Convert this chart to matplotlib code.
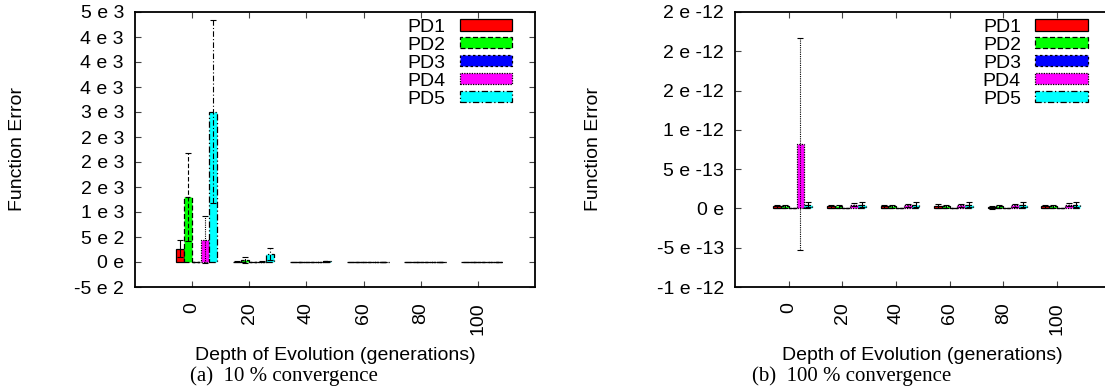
import numpy as np
import matplotlib
matplotlib.use('Agg')
from matplotlib import pyplot as plt
from matplotlib.patches import Patch

plt.rcParams['font.family'] = ['Liberation Sans', 'DejaVu Sans']

# data
depths = [0, 20, 40, 60, 80, 100]
series = ['PD1', 'PD2', 'PD3', 'PD4', 'PD5']
colors = ['#ff0000', '#00ff00', '#0000ff', '#ff00ff', '#00ffff']
styles = ['-', (0, (4, 2)), (0, (2, 2)), (0, (1, 1)), (0, (5, 2, 1, 2))]

# (a) 10 % convergence
mean10 = {
    'PD1': [270, 8, 5, 5, 5, 5],
    'PD2': [1300, 50, 6, 5, 5, 5],
    'PD3': [3, 2, 2, 2, 2, 2],
    'PD4': [450, 8, 5, 5, 5, 5],
    'PD5': [3010, 160, 15, 5, 5, 5],
}
err10 = {
    'PD1': [170, 5, 3, 3, 3, 3],
    'PD2': [880, 60, 4, 3, 3, 3],
    'PD3': [2, 1, 1, 1, 1, 1],
    'PD4': [470, 5, 3, 3, 3, 3],
    'PD5': [1830, 115, 12, 4, 4, 4],
}
yticks10 = [-500, 0, 500, 1000, 1500, 2000, 2500, 3000, 3500, 4000, 4500, 5000]
ylabels10 = ['-5 e 2', '0 e', '5 e 2', '1 e 3', '2 e 3', '2 e 3', '2 e 3',
             '3 e 3', '4 e 3', '4 e 3', '4 e 3', '5 e 3']

# (b) 100 % convergence
mean100 = {
    'PD1': [2.5e-14, 2.5e-14, 3e-14, 3e-14, 1.5e-14, 3e-14],
    'PD2': [3e-14, 2.5e-14, 2.5e-14, 3e-14, 2.5e-14, 2.5e-14],
    'PD3': [2e-16, 2e-16, 2e-16, 2e-16, 2e-16, 2e-16],
    'PD4': [8.15e-13, 5e-14, 4e-14, 4e-14, 4e-14, 4.5e-14],
    'PD5': [5e-14, 5e-14, 5e-14, 5e-14, 5e-14, 5e-14],
}
err100 = {
    'PD1': [2e-14, 2.5e-14, 2e-14, 2.5e-14, 2e-14, 2e-14],
    'PD2': [2e-14, 2e-14, 2e-14, 2e-14, 2e-14, 2e-14],
    'PD3': [1e-16, 1e-16, 1e-16, 1e-16, 1e-16, 1e-16],
    'PD4': [1.35e-12, 2e-14, 2e-14, 2e-14, 2e-14, 2e-14],
    'PD5': [3e-14, 3e-14, 3.5e-14, 3e-14, 3e-14, 3.5e-14],
}
yticks100 = [-1e-12, -5e-13, 0, 5e-13, 1e-12, 1.5e-12, 2e-12, 2.5e-12]
ylabels100 = ['-1 e -12', '-5 e -13', '0 e', '5 e -13', '1 e -12',
              '2 e -12', '2 e -12', '2 e -12']

FS = 14
BAR_W = 2.9
BAR_START = -4.3


def drawPanel(ax, means, errs, yticks, ylabels, legend_x):
    x = np.array(depths, dtype=float)
    for i, name in enumerate(series):
        pos = x + BAR_START + BAR_W * i
        ax.bar(pos, means[name], width=BAR_W, color=colors[i],
               edgecolor='black', linewidth=0.9, linestyle=styles[i], zorder=2)
        eb = ax.errorbar(pos, means[name], yerr=errs[name], fmt='none',
                         ecolor='black', elinewidth=0.8, capsize=2,
                         capthick=0.8, zorder=3)
        eb[2][0].set_linestyle(styles[i])

    ax.set_xlim(-20, 120)
    ax.set_ylim(yticks[0], yticks[-1])
    ax.set_xticks(depths)
    ax.set_xticklabels([str(d) for d in depths], rotation=90, fontsize=FS,
                       va='top', ha='center')
    ax.set_yticks(yticks)
    ax.set_yticklabels(ylabels, fontsize=FS)
    ax.tick_params(direction='in', length=4, width=0.8, top=True, right=True,
                   color='#444444')
    ax.tick_params(axis='x', pad=11)
    ax.tick_params(axis='y', pad=8)
    for sp in ax.spines.values():
        sp.set_linewidth(1.3)

    handles = [Patch(facecolor=colors[i], edgecolor='black', linewidth=0.9,
                     linestyle=styles[i], label=series[i])
               for i in range(len(series))]
    ax.legend(handles=handles, loc='upper right',
              bbox_to_anchor=(legend_x, 0.975), frameon=False,
              markerfirst=False, fontsize=FS, handlelength=2.7,
              handleheight=0.5, handletextpad=0.72, labelspacing=0.05,
              borderpad=0, borderaxespad=0)


fig = plt.figure(figsize=(11.05, 3.91), dpi=100)
W, H = 1105.0, 391.0

ax1 = fig.add_axes([135 / W, 1 - 287 / H, 400 / W, 275 / H])
drawPanel(ax1, mean10, err10, yticks10, ylabels10, 1 - 23 / 400.0)

ax2 = fig.add_axes([735 / W, 1 - 287 / H, 375.5 / W, 275 / H])
drawPanel(ax2, mean100, err100, yticks100, ylabels100, 1 - 23 / 375.5)

# axis labels and captions
for cx in [18, 594]:
    fig.text(cx / W, 1 - 149 / H, 'Function Error', rotation=90,
             ha='center', va='center', fontsize=FS)
fig.text(335 / W, 1 - 356 / H, 'Depth of Evolution (generations)',
         ha='center', va='center', fontsize=FS)
fig.text(922 / W, 1 - 356 / H, 'Depth of Evolution (generations)',
         ha='center', va='center', fontsize=FS)
fig.text(190 / W, 1 - 376 / H, '(a)  10 % convergence', ha='left',
         va='center', fontsize=15, family=['Liberation Serif', 'DejaVu Serif'])
fig.text(752 / W, 1 - 376 / H, '(b)  100 % convergence', ha='left',
         va='center', fontsize=15, family=['Liberation Serif', 'DejaVu Serif'])

fig.savefig('out.png', dpi=100)
print("plot successful")
